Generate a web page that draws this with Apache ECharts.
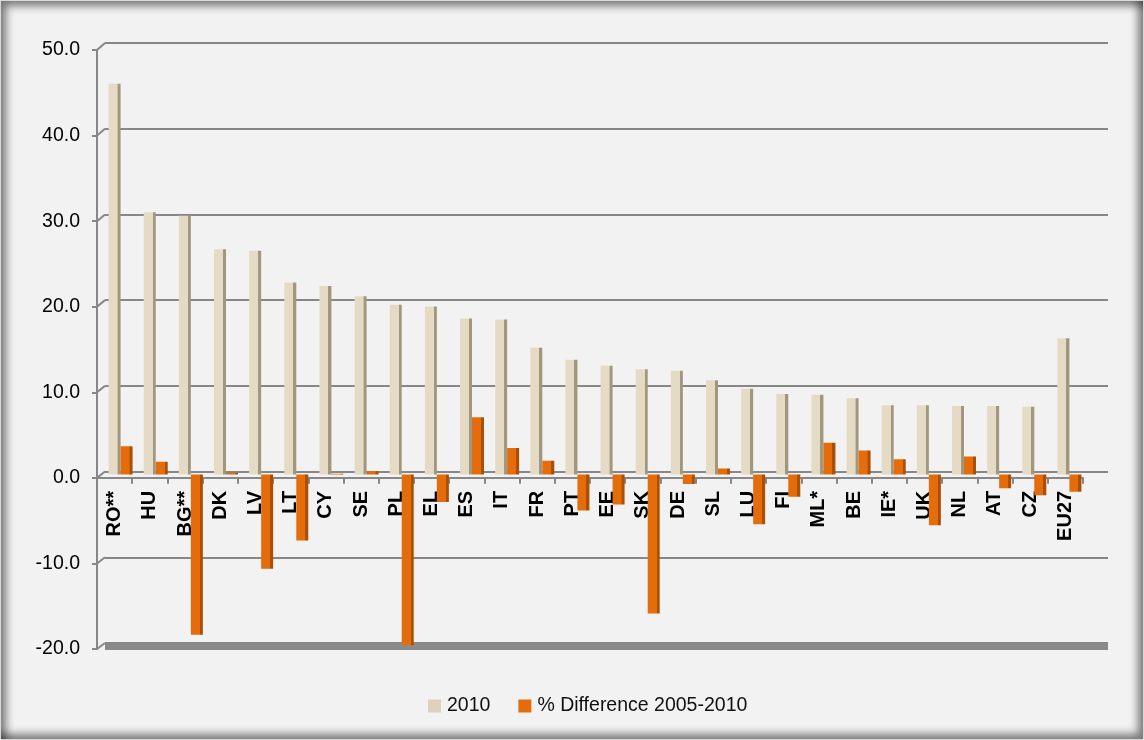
<!DOCTYPE html>
<html>
<head>
<meta charset="utf-8">
<script src="https://cdn.jsdelivr.net/npm/echarts@6/dist/echarts.min.js"></script>
<style>
html,body{margin:0;padding:0;background:#f2f2f2;}
#chart{position:absolute;left:0;top:0;width:1144px;height:740px;}
#frame{position:absolute;left:0;top:0;width:1142px;height:738px;border:1px solid #d9d9d9;
 box-shadow: inset 7px 7px 8px -2px rgba(0,0,0,0.5), inset -7px -7px 8px -2px rgba(0,0,0,0.5);pointer-events:none;}
</style>
</head>
<body>
<div id="chart"></div>
<div id="frame"></div>
<script>
// ---- data ----
const categories = ['RO**','HU','BG**','DK','LV','LT','CY','SE','PL','EL','ES','IT','FR','PT','EE','SK','DE','SL','LU','FI','ML*','BE','IE*','UK','NL','AT','CZ','EU27'];
const values2010 = [45.6,30.6,30.2,26.3,26.1,22.4,22.0,20.8,19.8,19.6,18.2,18.1,14.8,13.4,12.7,12.3,12.1,11.0,10.0,9.4,9.3,8.9,8.1,8.1,8.0,8.0,7.9,15.9];
const valuesDiff = [3.3,1.5,-18.7,0.2,-11.0,-7.7,0.1,0.4,-19.9,-3.2,6.7,3.1,1.6,-4.2,-3.5,-16.2,-1.1,0.7,-5.8,-2.6,3.7,2.8,1.8,-5.9,2.1,-1.6,-2.4,-2.0];
const seriesNames = ['2010','% Difference 2005-2010'];
const yMin = -20, yMax = 50, yStep = 10;
</script>
<script>
function hasFont(f){
  const c=document.createElement('canvas').getContext('2d');
  c.font='40px monospace'; const a=c.measureText('abcdefgWMil0%').width;
  c.font="40px '"+f+"', monospace"; return c.measureText('abcdefgWMil0%').width!==a;
}
const narrow = hasFont('Liberation Sans Narrow');
const FONT = narrow ? "'Liberation Sans Narrow', 'Arial Narrow', sans-serif" : "'Liberation Sans', Arial, sans-serif";
const FS = narrow ? 22 : 19.5;

const chart = echarts.init(document.getElementById('chart'), null, {renderer:'canvas'});
const gridColor = '#878787';

function hGrad(front, side){
  return new echarts.graphic.LinearGradient(0,0,1,0,[
    {offset:0,color:front},{offset:0.74,color:front},{offset:0.75,color:side},{offset:1,color:side}]);
}
const beige = hGrad('#e5dbc5','#a1977f');
const orange = hGrad('#e46c0a','#a94f06');

// front grid: 0 at y=478, 50 at y=50
const frontTop = 50, frontH = 599;
const zeroH = frontH * (yMax - 0) / (yMax - yMin);

const option = {
  backgroundColor:'transparent',
  animation:false,
  grid:[
    {left:97, top:frontTop, width:984, height:frontH},   // front y axis
    {left:105, top:43, width:1003, height:600},          // back wall gridlines + floor
    {left:103, top:46, width:984, height:600},           // bars
    {left:97, top:frontTop, width:986, height:zeroH}     // category axis at zero
  ],
  xAxis:[
    {gridIndex:0, type:'category', data:categories, show:false},
    {gridIndex:1, type:'category', data:categories, position:'bottom', offset:3,
     axisLine:{onZero:false, lineStyle:{color:'#8a8a8a',width:7,cap:'butt'}}, axisTick:{show:false}, axisLabel:{show:false}},
    {gridIndex:2, type:'category', data:categories, show:false},
    {gridIndex:3, type:'category', data:categories, position:'bottom',
     axisLine:{onZero:false, lineStyle:{color:gridColor,width:2}},
     axisTick:{show:true, length:6, lineStyle:{color:gridColor,width:2}},
     axisLabel:{rotate:90, margin:13, color:'#000', fontWeight:'bold', fontFamily:FONT, fontSize:FS+0.5}}
  ],
  yAxis:[
    {gridIndex:0, type:'value', min:yMin, max:yMax, interval:yStep,
     axisLine:{show:true, lineStyle:{color:gridColor,width:2}},
     axisTick:{show:true, length:5, lineStyle:{color:gridColor,width:2}},
     splitLine:{show:false},
     axisLabel:{margin:17, color:'#000', fontFamily:FONT, fontSize:FS, formatter:v=>v.toFixed(1)}},
    {gridIndex:1, type:'value', min:yMin, max:yMax, interval:yStep,
     axisLine:{show:false}, axisTick:{show:false}, axisLabel:{show:false},
     splitLine:{show:true, lineStyle:{color:gridColor,width:2}}},
    {gridIndex:2, type:'value', min:yMin, max:yMax, interval:yStep, show:false, splitLine:{show:false}},
    {gridIndex:3, type:'value', min:0, max:yMax, interval:yStep, show:false, splitLine:{show:false}}
  ],
  legend:{
    bottom:19, left:423, itemWidth:13, itemHeight:13, itemGap:28,
    textStyle:{color:'#111', fontFamily:FONT, fontSize:FS, padding:[0,0,0,1]},
    data:[{name:seriesNames[0], itemStyle:{color:'#ddd3bd'}, icon:'rect'},
          {name:seriesNames[1], itemStyle:{color:'#e46c0a'}, icon:'rect'}]
  },
  series:[
    {name:seriesNames[0], type:'bar', xAxisIndex:2, yAxisIndex:2, data:values2010,
     barWidth:12, barGap:'0%', itemStyle:{color:beige}, z:3},
    {name:seriesNames[1], type:'bar', xAxisIndex:2, yAxisIndex:2, data:valuesDiff,
     barWidth:12, barGap:'0%', itemStyle:{color:orange}, z:3}
  ]
};
chart.setOption(option);

// small perspective connectors between front ticks and back gridlines
const g=[];
const fx=chart.getModel().getComponent('grid',0).coordinateSystem.getRect().x;
const bx=chart.getModel().getComponent('grid',1).coordinateSystem.getRect().x;
for(let v=yMin; v<=yMax; v+=yStep){
  const f=chart.convertToPixel({gridIndex:0},[0,v]);
  const b=chart.convertToPixel({gridIndex:1},[0,v]);
  g.push({type:'line', shape:{x1:fx,y1:f[1],x2:bx,y2:b[1]}, style:{stroke:gridColor,lineWidth:2}, z:5});
}
chart.setOption({graphic:g});
</script>
</body>
</html>
